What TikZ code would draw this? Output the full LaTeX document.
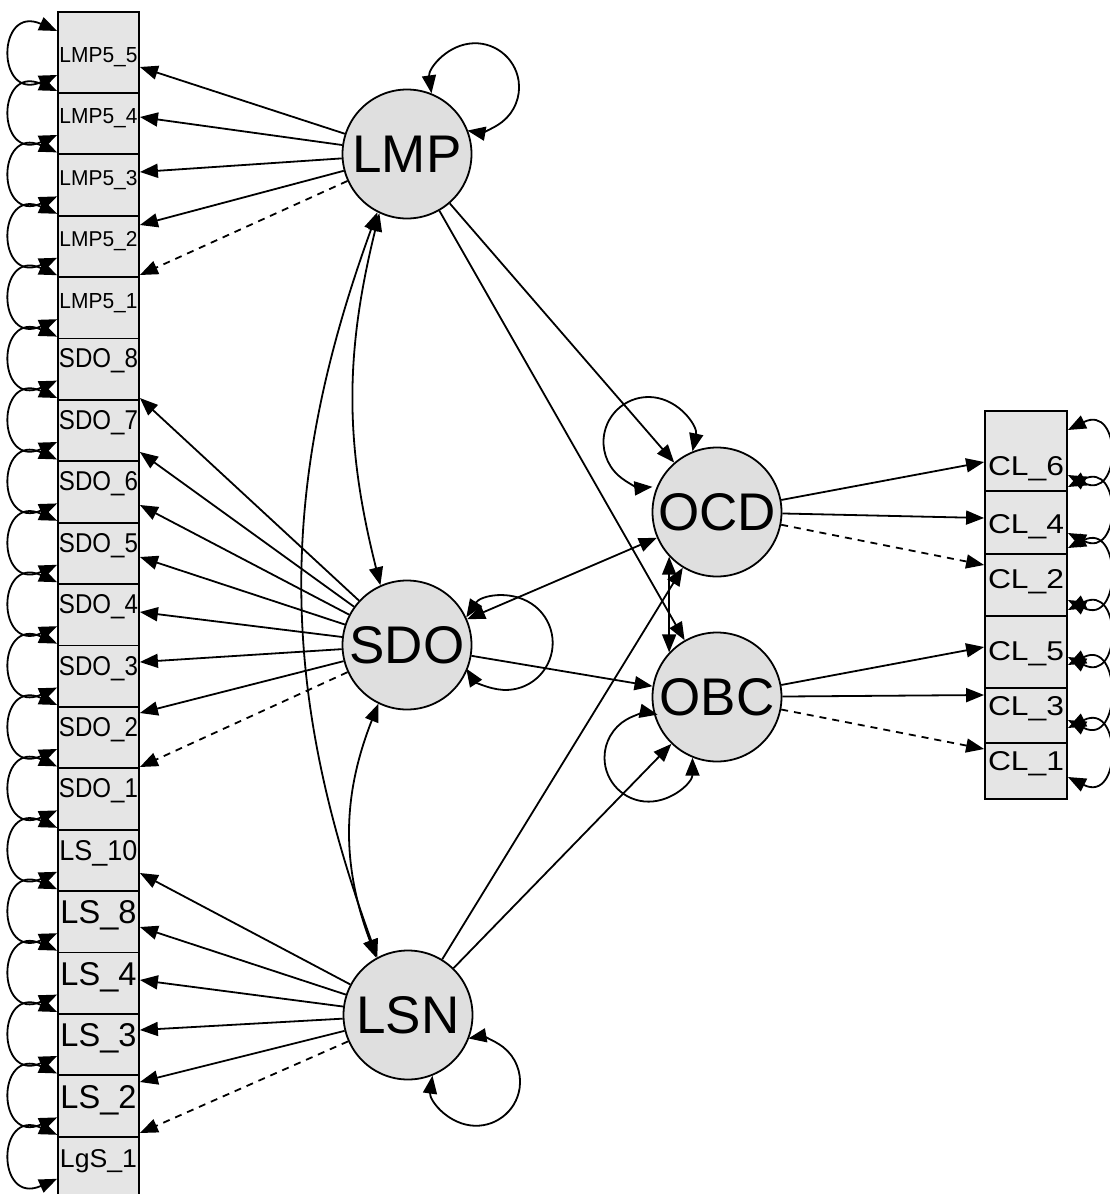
\documentclass[tikz,border=0pt]{standalone}
\usepackage{graphicx}
\usepackage{fontspec}
\setmainfont{Liberation Sans}
\usetikzlibrary{arrows.meta,calc}
\tikzset{
 lw/.style={line width=1.8pt},
 tip/.tip={Triangle[length=18pt,width=14pt]},
 arr/.style={lw,-tip},
 dbl/.style={lw,tip-tip},
 dsh/.style={arr,dash pattern=on 7pt off 6pt},
 lat/.style={circle,draw,lw,fill=gray!25,minimum size=129pt,inner sep=0pt,font=\fontsize{53}{53}\selectfont},
 obs/.style={rectangle,draw,lw,fill=gray!20,minimum width=81pt,inner xsep=0pt,inner ysep=0pt,anchor=north},
}
\newcommand{\lbl}[3]{\resizebox{#1pt}{#2pt}{#3}}
\begin{document}
\begin{tikzpicture}[x=1pt,y=1pt]
\useasboundingbox (0,0) rectangle (1110,-1194);
\clip (0,0) rectangle (1110,-1194);
\fill[white] (0,0) rectangle (1110,-1194);
% left column
\foreach \n/\t/\T/\B/\bs/\W/\H in {
 lmp55/LMP5\_5/11/92/62/78/15,
 lmp54/LMP5\_4/92/153.4/123/78/15,
 lmp53/LMP5\_3/153.4/214.8/184.4/78/15,
 lmp52/LMP5\_2/214.8/276.2/245.8/78/15,
 lmp51/LMP5\_1/276.2/337.6/307.2/78/15,
 sdo8/SDO\_8/337.6/399/367/79/19,
 sdo7/SDO\_7/399/460.4/428.5/79/19,
 sdo6/SDO\_6/460.4/521.8/490/79/19,
 sdo5/SDO\_5/521.8/583.2/551.3/79/19,
 sdo4/SDO\_4/583.2/644.6/612.7/79/19,
 sdo3/SDO\_3/644.6/706/674.1/79/19,
 sdo2/SDO\_2/706/767.4/735.5/79/19,
 sdo1/SDO\_1/767.4/828.8/796.9/79/19,
 ls10/LS\_10/828.8/890.2/860/78/20,
 ls8/LS\_8/890.2/951.6/923/76/23,
 ls4/LS\_4/951.6/1013/984.6/76/23,
 ls3/LS\_3/1013/1074.4/1046/76/23,
 ls2/LS\_2/1074.4/1135.8/1107.4/76/23,
 lgs1/LgS\_1/1135.8/1200/1167/77/18}{
 \pgfmathsetmacro\th{\bs-\T}
 \pgfmathsetmacro\td{\B-\bs}
 \node[obs,text height=\th pt,text depth=\td pt] (\n) at (98.5,-\T) {\lbl{\W}{\H}{\t}};
}
% left loops
\draw[dbl] ($(lmp55.north west)+(0,-20)$) .. controls +(-61,27) and +(-61,-27) .. ($(lmp55.north west)+(0,-64)$);
\foreach \n in {lmp54,lmp53,lmp52,lmp51,sdo8,sdo7,sdo6,sdo5,sdo4,sdo3,sdo2,sdo1,ls10,ls8,ls4,ls3,ls2,lgs1}{
 \draw[dbl] ($(\n.north west)+(0,1)$) .. controls +(-61,27) and +(-61,-27) .. ($(\n.north west)+(0,-43)$);
}
% right column
\foreach \n/\t/\T/\th/\td in {
 cl6/CL\_6/410/65/15,
 cl4/CL\_4/490/43/20,
 cl2/CL\_2/553/35/27,
 cl5/CL\_5/615/45/27,
 cl3/CL\_3/687/28/27,
 cl1/CL\_1/742/28/28}{
 \node[obs,minimum width=82pt,text height=\th pt,text depth=\td pt] (\n) at (1026,-\T) {\lbl{76}{19}{\t}};
}
\foreach \n/\a/\b in {cl6/20/65,cl4/-3/43,cl2/-5/47,cl5/-5/42,cl3/-22/33,cl1/-14/35}{
 \draw[dbl] ($(\n.north east)+(0,-\a)$) .. controls +(54,27) and +(54,-27) .. ($(\n.north east)+(0,-\b)$);
}
% latent variables
\node[lat] (lmp) at (407,-154) {LMP};
\node[lat] (sdo) at (407,-645) {SDO};
\node[lat] (lsn) at (408,-1015) {LSN};
\node[lat] (ocd) at (717,-512) {OCD};
\node[lat] (obc) at (717,-697) {OBC};
% loadings
\foreach \b/\o in {lmp55/56,lmp54/25,lmp53/18.6,lmp52/10.2}{
 \draw[arr] (lmp) -- ($(\b.north east)+(0,-\o)$);
}
\draw[dsh] (lmp) -- ($(lmp51.north east)+(0,1.2)$);
\foreach \b/\o in {sdo8/60.4,sdo7/53,sdo6/44.6,sdo5/35.2,sdo4/28.8,sdo3/17.4,sdo2/7}{
 \draw[arr] (sdo) -- ($(\b.north east)+(0,-\o)$);
}
\draw[dsh] (sdo) -- ($(sdo1.north east)+(0,0.4)$);
\foreach \b/\o in {ls10/44.2,ls8/36.8,ls4/28.4,ls3/17,ls2/7.6}{
 \draw[arr] (lsn) -- ($(\b.north east)+(0,-\o)$);
}
\draw[dsh] (lsn) -- ($(lgs1.north east)+(0,2.8)$);
\draw[arr] (ocd) -- ($(cl6.north west)+(0,-52)$);
\draw[arr] (ocd) -- ($(cl4.north west)+(0,-28)$);
\draw[dsh] (ocd) -- ($(cl2.north west)+(0,-12)$);
\draw[arr] (obc) -- ($(cl5.north west)+(0,-32)$);
\draw[arr] (obc) -- ($(cl3.north west)+(0,-8)$);
\draw[dsh] (obc) -- ($(cl1.north west)+(0,-7)$);
% structural paths
\draw[arr] (lmp) -- (ocd);
\draw[arr] (lmp) -- (obc);
\draw[dbl] (sdo) -- (ocd);
\draw[arr] (sdo) -- (obc);
\draw[arr] (lsn) -- (ocd);
\draw[arr] (lsn) -- (obc);
\draw[dbl] (ocd.223) -- (obc.137);
% covariances
\draw[dbl] (lmp.245) to[bend right=14] (sdo.114);
\draw[dbl] (sdo.244) to[bend right=21] (lsn.119);
\draw[dbl] (lmp.243) to[bend right=20] (lsn.118);
% variances
\draw[dbl] (lmp.68) arc[start angle=188,end angle=-100,radius=44];
\draw[dbl] (lsn.-68) arc[start angle=-188,end angle=100,radius=44];
\draw[dbl] (sdo.25) arc[start angle=147,end angle=-147,radius=47];
\draw[dbl] (ocd.112) arc[start angle=-12,end angle=275,radius=45];
\draw[dbl] (obc.-112) arc[start angle=0,end angle=-282,radius=44];
\end{tikzpicture}
\end{document}
